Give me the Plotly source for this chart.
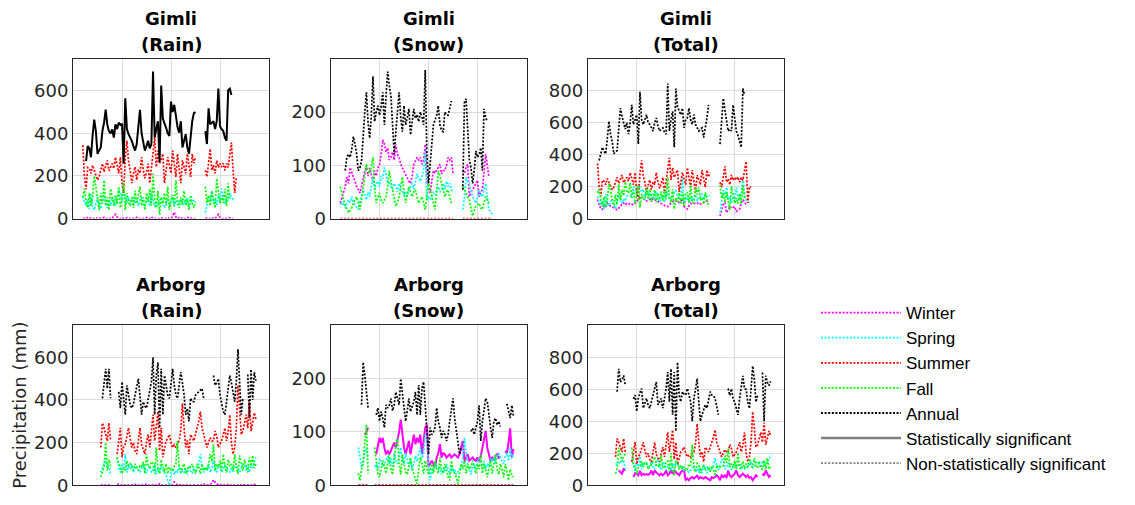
import plotly.graph_objects as go

N = None
gimli_years = list(range(1906, 2001))
arborg_years = list(range(1917, 2014))

# ---------------- Gimli (1906-2000) ----------------
g_rain_win = [0, 2, 0, 5, 0, 3, 0, 0, 4, 0,
              2, 0, 0, 6, 0, 0, 3, 0, 0, 12,
              20, 8, 0, 0, 5, 0, 0, 4, 0, 0,
              3, 0, 0, 6, 0, 0, 2, 0, 0, 5,
              0, 0, 8, 0, 0, 3, 0, 0, 5, 0,
              0, 0, 4, 0, 0, 10, 30, 8, 0, 5,
              0, 3, 0, 0, 6, 0, 0, 4, 0, 0,
              N, N, N, N, N, 0, 3, 0, 0, 5,
              0, 0, 8, 20, 6, 0, 0, 3, 0, 0,
              4, 0, 0, N, N]
g_rain_spr = [104, 74, 60, 90, 45, 120, 60, 40, 70, 100,
              60, 45, 80, 110, 75, 50, 90, 60, 100, 80,
              60, 95, 135, 120, 80, 135, 110, 70, 100, 60,
              90, 105, 70, 95, 60, 85, 100, 70, 55, 80,
              95, 60, 120, 90, 55, 75, 60, 85, 100, 65,
              50, 70, 95, 60, 80, 100, 55, 85, 65, 75,
              90, 60, 80, 70, 100, 55, 90, 75, 85, 95,
              N, N, N, N, N, 28, 60, 100, 80, 130,
              70, 95, 60, 110, 80, 140, 90, 70, 100, 85,
              120, 100, 90, 97, N]
g_rain_sum = [345, 200, 138, 240, 235, 212, 250, 227, 200, 181,
              196, 230, 258, 220, 242, 273, 225, 242, 258, 235,
              288, 250, 212, 288, 166, 120, 280, 365, 270, 227,
              166, 210, 242, 181, 230, 212, 288, 230, 189, 220,
              258, 166, 240, 304, 380, 242, 319, 258, 280, 304,
              166, 230, 288, 250, 212, 319, 250, 196, 304, 220,
              166, 273, 240, 212, 304, 250, 196, 304, 260, 288,
              N, N, N, N, N, 227, 196, 260, 327, 227,
              250, 212, 273, 240, 258, 242, 260, 227, 258, 240,
              288, 357, 230, 120, 196]
g_rain_fal = [100, 140, 80, 50, 120, 60, 100, 200, 150, 80,
              40, 120, 70, 180, 60, 100, 40, 140, 90, 60,
              110, 70, 150, 50, 100, 170, 40, 120, 80, 60,
              100, 50, 130, 70, 110, 150, 60, 100, 40, 120,
              80, 140, 60, 210, 90, 50, 130, 20, 100, 70,
              120, 60, 150, 40, 90, 110, 60, 180, 80, 50,
              100, 70, 130, 60, 90, 40, 110, 70, 50, 80,
              N, N, N, N, N, 150, 74, 110, 60, 130,
              90, 50, 188, 120, 70, 100, 74, 140, 60, 165,
              90, N, N, N, N]
g_rain_ann = [N, N, 270, 340, 330, 288, 390, 465, 410, 304,
              320, 334, 411, 450, 511, 440, 411, 400, 419, 380,
              442, 420, 450, 440, 445, 258, 565, 420, 396, 380,
              365, 340, 319, 350, 420, 511, 400, 365, 319, 340,
              365, 330, 350, 690, 380, 420, 457, 265, 625, 470,
              442, 426, 400, 388, 549, 500, 534, 472, 430, 403,
              457, 334, 370, 396, 334, 304, 380, 457, 495, 500,
              N, N, N, N, N, 411, 350, 518, 442, 450,
              457, 420, 457, 610, 434, 420, 411, 380, 365, 603,
              610, 580, N, N, N]

g_snow_win = [29, 40, 48, 60, 78, 66, 96, 85, 78, 70,
              60, 55, 48, 60, 75, 90, 96, 80, 95, 84,
              70, 90, 80, 95, 102, 120, 148, 140, 125, 133,
              110, 115, 125, 110, 139, 120, 115, 102, 95, 90,
              84, 75, 70, 66, 80, 102, 110, 115, 110, 115,
              102, 110, 139, 66, 60, 48, 70, 90, 85, 90,
              95, 102, 84, 90, 90, 100, 115, 110, 115, 84,
              N, N, N, N, N, 90, 85, 96, 102, 41,
              50, 54, 60, 66, 72, 41, 50, 54, 90, 121,
              100, 78, N, N, N]
g_snow_spr = [29, 25, 30, 20, 28, 35, 30, 41, 30, 25,
              20, 17, 30, 40, 54, 45, 35, 50, 41, 60,
              78, 55, 65, 70, 60, 80, 75, 96, 85, 66,
              70, 60, 55, 66, 60, 50, 66, 55, 50, 45,
              50, 41, 55, 60, 66, 55, 70, 84, 75, 70,
              80, 90, 127, 35, 41, 35, 40, 50, 45, 54,
              60, 50, 54, 66, 55, 70, 60, 66, 54, 50,
              N, N, N, N, N, 17, 40, 78, 70, 66,
              50, 41, 35, 29, 40, 54, 45, 41, 55, 66,
              40, 17, 12, 8, N]
g_snow_sum = [0, 0, 0, 0, 0, 0, 0, 0, 0, 0,
              0, 0, 0, 0, 0, 0, 0, 0, 0, 0,
              0, 0, 0, 0, 0, 0, 0, 0, 0, 0,
              0, 0, 0, 0, 0, 0, 0, 0, 0, 0,
              0, 0, 0, 0, 0, 0, 0, 0, 0, 0,
              0, 0, 0, 0, 0, 0, 0, 0, 0, 0,
              0, 0, 0, 0, 0, 0, 0, 0, 0, 0,
              N, N, N, N, N, 0, 0, 0, 0, 0,
              0, 0, 0, 0, 0, 0, 0, 0, 0, 0,
              0, 0, 0, 0, N]
g_snow_fal = [60, 45, 35, 25, 17, 11, 15, 20, 29, 35,
              41, 30, 17, 35, 54, 80, 102, 90, 84, 100,
              115, 60, 29, 40, 48, 35, 29, 35, 41, 60,
              90, 70, 54, 35, 23, 30, 41, 60, 78, 50,
              29, 45, 60, 50, 41, 50, 54, 40, 29, 35,
              41, 30, 17, 40, 66, 55, 41, 30, 17, 50,
              90, 80, 66, 55, 41, 50, 54, 40, 29, N,
              N, N, N, N, N, 60, 55, 48, 40, 35,
              20, 5, 15, 23, 26, 29, 20, 17, 30, 41,
              35, 29, N, N, N]
g_snow_ann = [N, N, N, 90, 115, 121, 115, 130, 154, 140,
              121, 90, 95, 108, 163, 200, 237, 180, 151, 194,
              267, 182, 200, 212, 194, 210, 237, 176, 230, 276,
              250, 230, 176, 121, 163, 200, 237, 190, 163, 212,
              176, 190, 206, 157, 180, 206, 188, 195, 182, 200,
              190, 176, 279, 121, 66, 100, 127, 176, 185, 194,
              212, 176, 165, 163, 200, 195, 194, 205, 221, N,
              N, N, N, N, N, 54, 218, 225, 151, 110,
              96, 66, 90, 127, 115, 120, 133, 90, 206, 190,
              182, N, N, N, N]

g_tot_win = [119, 90, 60, 57, 80, 70, 96, 85, 80, 70,
             65, 60, 55, 65, 80, 90, 98, 85, 95, 90,
             95, 92, 85, 98, 105, 119, 140, 130, 120, 125,
             110, 115, 120, 112, 125, 119, 112, 105, 100, 95,
             90, 82, 80, 75, 85, 100, 108, 115, 110, 112,
             100, 108, 125, 75, 70, 60, 80, 95, 90, 92,
             95, 100, 88, 92, 95, 100, 112, 108, 115, N,
             N, N, N, N, N, 16, 60, 90, 100, 37,
             55, 78, 65, 70, 75, 45, 55, 60, 95, 119,
             105, 85, N, N, N]
g_tot_spr = [139, 100, 90, 110, 57, 155, 90, 80, 100, 125,
             80, 62, 110, 150, 130, 95, 125, 110, 141, 140,
             138, 150, 200, 190, 140, 215, 185, 166, 185, 126,
             160, 165, 125, 161, 120, 135, 166, 125, 105, 125,
             145, 101, 175, 150, 121, 130, 130, 169, 175, 135,
             130, 160, 262, 95, 121, 135, 95, 135, 110, 129,
             150, 110, 134, 136, 155, 125, 150, 141, 139, 145,
             N, N, N, N, N, 37, 100, 178, 150, 196,
             120, 136, 95, 139, 120, 194, 135, 111, 155, 262,
             160, 117, 102, 105, N]
g_tot_sum = [345, 200, 138, 240, 235, 212, 250, 227, 200, 181,
             196, 230, 258, 220, 242, 273, 225, 242, 258, 235,
             288, 250, 212, 288, 166, 120, 280, 365, 270, 227,
             166, 210, 242, 181, 230, 212, 288, 230, 189, 220,
             258, 166, 240, 304, 380, 242, 319, 258, 280, 304,
             166, 230, 288, 250, 212, 319, 250, 196, 304, 220,
             166, 273, 240, 212, 304, 250, 196, 304, 260, 288,
             N, N, N, N, N, 227, 196, 260, 327, 227,
             250, 212, 273, 240, 258, 242, 260, 227, 258, 240,
             288, 357, 98, 200, 196]
g_tot_fal = [160, 185, 115, 75, 137, 71, 115, 220, 179, 115,
             81, 150, 87, 215, 114, 180, 142, 230, 174, 160,
             225, 130, 179, 90, 148, 205, 69, 155, 121, 120,
             190, 120, 184, 105, 133, 180, 101, 160, 118, 170,
             109, 185, 120, 260, 131, 100, 184, 60, 129, 105,
             161, 90, 167, 80, 156, 165, 101, 210, 97, 100,
             190, 150, 196, 115, 131, 90, 164, 110, 79, N,
             N, N, N, N, N, 210, 129, 158, 100, 165,
             110, 55, 203, 143, 96, 129, 94, 157, 90, 206,
             125, N, N, N, N]
g_tot_ann = [N, 364, 400, 446, 420, 405, 500, 609, 528, 480,
             405, 420, 425, 550, 691, 640, 589, 560, 600, 528,
             600, 712, 589, 620, 650, 466, 793, 620, 589, 620,
             650, 600, 589, 570, 548, 600, 630, 580, 548, 560,
             568, 540, 528, 845, 548, 620, 671, 446, 814, 700,
             671, 650, 691, 568, 620, 630, 691, 620, 589, 650,
             589, 570, 548, 560, 568, 507, 560, 630, 712, N,
             N, N, N, N, N, 466, 600, 753, 680, 609,
             548, 560, 548, 712, 620, 548, 520, 487, 446, 814,
             773, N, N, N, N]

# ---------------- Arborg (1917-2013) ----------------
a_rain_win = [0, 0, 2, 0, 0, 3, 0, N, N, N,
              0, 5, 0, 0, 3, 0, 0, 2, 0, 0,
              0, 4, 0, 0, 0, 2, 0, 0, 5, 0,
              0, 0, 3, 0, 0, 0, 6, 0, 0, 0,
              3, 0, 0, 5, 0, 15, 8, 0, 0, 2,
              0, 0, 4, 0, 0, 0, 3, 0, 0, 0,
              2, 0, 0, 5, 0, 0, 0, 3, 10, 25,
              15, 5, 0, 0, 3, 0, 0, 0, 4, 0,
              0, 3, 0, 0, 0, 5, 0, 0, 2, 0,
              0, 3, 0, 0, 4, 0, N]
a_rain_spr = [60, 85, 100, 115, 80, 90, 50, N, N, N,
              131, 80, 60, 100, 70, 146, 60, 90, 75, 100,
              60, 80, 90, 70, 60, 85, 100, 70, 55, 80,
              90, 60, 70, 100, 50, 80, 60, 90, 70, 60,
              50, 20, 0, 60, 80, 50, 70, 60, 90, 55,
              70, 60, 80, 50, 90, 65, 55, 80, 60, 75,
              100, 146, 90, 60, 80, 70, 100, 60, 80, 120,
              70, 60, 85, 90, 60, 75, 100, 80, 70, 60,
              80, 60, 90, 100, 70, 60, 80, 100, 90, 70,
              100, 60, 90, 80, 110, 130, N]
a_rain_sum = [177, 292, 269, 240, 208, 292, 208, N, N, N,
              146, 200, 269, 131, 180, 192, 230, 269, 220, 177,
              200, 160, 146, 210, 269, 192, 170, 146, 200, 238,
              177, 260, 331, 208, 280, 346, 162, 269, 131, 180,
              208, 220, 238, 200, 177, 190, 177, 200, 208, 260,
              385, 269, 177, 210, 146, 238, 220, 208, 240, 269,
              300, 346, 269, 240, 208, 177, 200, 223, 208, 208,
              254, 230, 177, 192, 210, 238, 269, 208, 250, 331,
              200, 146, 177, 269, 469, 362, 238, 253, 299, 331,
              268, 391, 253, 300, 340, 310, N]
a_rain_fal = [38, 60, 85, 200, 69, 120, 90, N, N, N,
              131, 100, 85, 54, 80, 69, 115, 90, 100, 80,
              69, 100, 85, 70, 90, 85, 110, 54, 146, 90,
              85, 110, 100, 54, 177, 80, 54, 120, 90, 60,
              100, 54, 85, 70, 69, 90, 100, 208, 85, 60,
              85, 100, 54, 69, 90, 85, 100, 69, 54, 100,
              85, 54, 100, 69, 85, 69, 100, 146, 110, 192,
              69, 100, 85, 115, 69, 146, 85, 60, 120, 90,
              100, 70, 146, 80, 54, 140, 100, 69, 120, 90,
              60, 130, 90, 140, 80, 100, N]
a_rain_ann = [N, 408, 480, 546, 454, 546, 408, N, N, N,
              N, 438, 362, 485, 400, 331, 469, 420, 377, 362,
              380, 423, 460, 500, 420, 331, 392, 370, 362, 408,
              440, 485, 600, 331, 515, 577, 269, 546, 331, 515,
              470, 423, 408, 480, 546, 470, 423, 408, 460, 531,
              480, 423, 331, 360, 300, 408, 392, 392, 423, 430,
              438, 445, 454, 408, N, N, N, N, N, 515,
              469, 480, 500, 423, 380, 346, 331, 400, 469, 515,
              480, 438, 392, 485, 638, 485, 331, 408, N, N,
              520, 314, 544, 400, 530, 491, N]

a_snow_win = [N, N, N, N, 95, 100, 108, N, N, N,
              N, 58, 75, 89, 80, 89, 70, 58, 65, 58,
              65, 71, 80, 71, 83, 100, 123, 90, 71, 58,
              70, 83, 58, 75, 95, 77, 89, 80, 95, 58,
              80, 108, 114, 34, 40, 46, 40, 34, 52, 60,
              77, 52, 60, 58, 52, 55, 58, 52, 55, 58,
              55, 52, 58, 70, 83, 46, 52, 58, 46, 50,
              52, 48, 46, 52, 46, 55, 71, 85, 102, 70,
              58, 46, 52, 48, 55, 58, 50, 55, N, N,
              64, 60, 80, 107, 52, 68, N]
a_snow_spr = [71, 50, 34, 40, 60, 70, 50, N, N, N,
              34, 40, 30, 50, 45, 35, 40, 46, 55, 40,
              50, 35, 60, 45, 40, 55, 71, 50, 40, 60,
              45, 35, 50, 28, 40, 55, 45, 60, 71, 50,
              60, 95, 89, 40, 9, 30, 25, 40, 35, 30,
              35, 20, 30, 25, 40, 30, 20, 35, 25, 30,
              20, 25, 30, 35, 52, 89, 60, 40, 30, 20,
              35, 40, 30, 45, 50, 40, 35, 45, 30, 40,
              35, 50, 45, 52, 40, 55, 60, 50, 45, 40,
              55, 60, 45, 70, 50, 60, N]
a_snow_sum = [0, 0, 0, 0, 0, 0, 0, N, N, N,
              0, 0, 0, 0, 0, 0, 0, 0, 0, 0,
              0, 0, 0, 0, 0, 0, 0, 0, 0, 0,
              0, 0, 0, 0, 0, 0, 0, 0, 0, 0,
              0, 0, 0, 0, 0, 0, 0, 0, 0, 0,
              0, 0, 0, 0, 0, 0, 0, 0, 0, 0,
              0, 0, 0, 0, 0, 0, 0, 0, 0, 0,
              0, 0, 0, 0, 0, 0, 0, 0, 0, 0,
              0, 0, 0, 0, 0, 0, 0, 0, 0, 0,
              0, 0, 0, 0, 0, 0, N]
a_snow_fal = [22, 9, 30, 46, 80, 114, 22, N, N, N,
              71, 40, 22, 15, 30, 46, 35, 22, 40, 58,
              30, 20, 46, 77, 89, 40, 20, 58, 40, 25,
              20, 35, 52, 30, 22, 10, 3, 30, 52, 40,
              22, 46, 30, 20, 30, 40, 22, 46, 30, 22,
              52, 30, 22, 40, 30, 15, 9, 46, 30, 22,
              15, 3, 25, 40, 30, 46, 22, 40, 30, 35,
              46, 35, 22, 40, 30, 58, 22, 40, 30, 15,
              35, 46, 22, 40, 58, 30, 20, 40, 30, 15,
              40, 25, 9, 30, 20, 15, N]
a_snow_ann = [N, N, 151, 231, 206, 170, 145, N, N, N,
              N, 132, 145, 120, 138, 125, 108, 151, 145, 150,
              163, 140, 151, 175, 160, 151, 200, 169, 150, 120,
              140, 163, 138, 150, 157, 175, 132, 188, 132, 182,
              194, 150, 108, 58, 108, 95, 100, 108, 145, 120,
              108, 89, 102, 95, 83, 95, 120, 140, 163, 126,
              100, 83, 58, 70, N, N, N, N, N, 101,
              107, 95, 108, 120, 150, 83, 120, 140, 163, 157,
              130, 108, 89, 120, 126, 113, 120, 110, N, N,
              N, 153, 140, 126, 150, 130, N]

a_tot_win = [N, N, 92, 80, 72, 100, 92, N, N, N,
             N, 51, 75, 72, 62, 89, 62, 72, 65, 70,
             65, 72, 92, 62, 92, 80, 72, 62, 72, 62,
             72, 92, 62, 72, 92, 72, 92, 80, 72, 62,
             80, 92, 92, 31, 41, 31, 45, 51, 41, 50,
             60, 41, 51, 45, 41, 51, 45, 41, 31, 51,
             45, 51, 62, 51, 31, 62, 51, 62, 45, 92,
             60, 51, 62, 72, 92, 62, 51, 62, 72, 62,
             51, 62, 45, 51, 31, 45, 62, 51, N, N,
             72, 60, 92, 72, 51, 62, N]
a_tot_spr = [131, 135, 134, 155, 140, 160, 100, N, N, N,
             165, 120, 90, 150, 115, 181, 100, 136, 130, 140,
             110, 115, 150, 115, 100, 140, 171, 120, 95, 140,
             135, 95, 120, 128, 90, 135, 105, 150, 141, 110,
             110, 115, 89, 100, 89, 80, 95, 100, 125, 85,
             105, 80, 110, 75, 130, 95, 75, 115, 85, 105,
             120, 171, 120, 95, 132, 159, 160, 100, 110, 140,
             105, 100, 115, 135, 110, 115, 135, 125, 100, 100,
             115, 110, 135, 152, 110, 115, 140, 150, 135, 110,
             155, 120, 135, 150, 160, 190, N]
a_tot_sum = [177, 292, 269, 240, 208, 292, 208, N, N, N,
             146, 200, 269, 131, 180, 192, 230, 269, 220, 177,
             200, 160, 146, 210, 269, 192, 170, 146, 200, 238,
             177, 260, 331, 208, 280, 346, 162, 269, 131, 180,
             208, 220, 238, 200, 177, 190, 177, 200, 208, 260,
             385, 269, 177, 210, 146, 238, 220, 208, 240, 269,
             300, 346, 269, 240, 208, 177, 200, 223, 208, 208,
             254, 230, 177, 192, 210, 238, 269, 208, 250, 331,
             200, 146, 177, 269, 460, 362, 238, 253, 299, 331,
             268, 391, 253, 300, 340, 310, N]
a_tot_fal = [72, 100, 236, 195, 150, 180, 195, N, N, N,
             236, 140, 107, 70, 110, 115, 150, 112, 140, 138,
             99, 120, 131, 147, 179, 125, 130, 112, 186, 115,
             105, 145, 152, 84, 199, 90, 57, 150, 142, 100,
             122, 100, 115, 90, 99, 130, 122, 254, 115, 82,
             137, 130, 76, 109, 120, 100, 109, 115, 84, 122,
             100, 57, 125, 109, 115, 115, 122, 186, 140, 227,
             115, 135, 107, 155, 99, 204, 107, 100, 150, 105,
             135, 116, 168, 120, 112, 170, 120, 109, 150, 105,
             100, 155, 99, 170, 100, 115, N]
a_tot_ann = [N, 585, 728, 646, 660, 687, 626, N, N, N,
             N, 540, 564, 462, 544, 580, 605, 482, 520, 544,
             500, 482, 523, 564, 600, 646, 503, 530, 544, 482,
             540, 605, 708, 523, 728, 441, 708, 338, 769, 564,
             523, 585, 570, 564, 605, 560, 523, 400, 544, 600,
             667, 523, 400, 441, 480, 503, 482, 530, 585, 564,
             560, 544, 500, 441, N, N, N, N, N, 605,
             562, 603, 542, 520, 480, 440, 542, 624, 685, 603,
             600, 521, 480, 600, 746, 665, 521, 560, N, N,
             705, 399, 685, 644, 624, 650, N]

seasons = ["Winter", "Spring", "Summer", "Fall", "Annual"]
colors = {"Winter": "#FF00FF", "Spring": "#00FFFF", "Summer": "#FF0000",
          "Fall": "#00FF00", "Annual": "#000000"}

panels = [
    ("Gimli", "(Rain)", gimli_years, [g_rain_win, g_rain_spr, g_rain_sum, g_rain_fal, g_rain_ann], {"Annual"}, 750, [0, 200, 400, 600]),
    ("Gimli", "(Snow)", gimli_years, [g_snow_win, g_snow_spr, g_snow_sum, g_snow_fal, g_snow_ann], set(), 300, [0, 100, 200]),
    ("Gimli", "(Total)", gimli_years, [g_tot_win, g_tot_spr, g_tot_sum, g_tot_fal, g_tot_ann], set(), 1000, [0, 200, 400, 600, 800]),
    ("Arborg", "(Rain)", arborg_years, [a_rain_win, a_rain_spr, a_rain_sum, a_rain_fal, a_rain_ann], set(), 750, [0, 200, 400, 600]),
    ("Arborg", "(Snow)", arborg_years, [a_snow_win, a_snow_spr, a_snow_sum, a_snow_fal, a_snow_ann], {"Winter"}, 300, [0, 100, 200]),
    ("Arborg", "(Total)", arborg_years, [a_tot_win, a_tot_spr, a_tot_sum, a_tot_fal, a_tot_ann], {"Winter"}, 1000, [0, 200, 400, 600, 800]),
]

W, H = 1135, 505
col_px = [(73, 269), (330.5, 526.5), (587.7, 783.7)]
row_px = [(60, 223), (332, 495)]
DOT = "2px,1.6px"
AXIS_FONT = dict(family="DejaVu Sans", size=18, color="#262626")

fig = go.Figure()
layout = dict(width=W, height=H, margin=dict(l=0, r=0, t=0, b=0),
              paper_bgcolor="white", plot_bgcolor="white", annotations=[])

for i, (station, kind, years, series, sig, ymax, yticks) in enumerate(panels):
    n = i + 1
    r, c = divmod(i, 3)
    xd = [col_px[c][0] / W, col_px[c][1] / W]
    yd = [1 - row_px[r][1] / H, 1 - row_px[r][0] / H]
    xs = "x" if n == 1 else f"x{n}"
    ys = "y" if n == 1 else f"y{n}"
    xk = "xaxis" if n == 1 else f"xaxis{n}"
    yk = "yaxis" if n == 1 else f"yaxis{n}"
    layout[xk] = dict(domain=xd, range=[1900, 2020], anchor=ys, tickvals=[1930, 1960, 1990],
                      showticklabels=False, ticks="", showgrid=True, gridcolor="#DCDCDC",
                      gridwidth=1, showline=True, mirror=True, linecolor="#262626",
                      linewidth=1, zeroline=False, fixedrange=True)
    layout[yk] = dict(domain=yd, range=[0, ymax], anchor=xs, tickvals=yticks,
                      ticktext=[str(v) for v in yticks], tickfont=AXIS_FONT, ticks="",
                      showgrid=True, gridcolor="#DCDCDC", gridwidth=1, showline=True,
                      mirror=True, linecolor="#262626", linewidth=1, zeroline=False,
                      fixedrange=True)
    for season, vals in zip(seasons, series):
        assert len(vals) == len(years), (station, kind, season, len(vals))
        solid = season in sig
        fig.add_trace(go.Scatter(
            x=years, y=vals, mode="lines", xaxis=xs, yaxis=ys, showlegend=False,
            hoverinfo="skip", connectgaps=False, cliponaxis=True,
            line=dict(color=colors[season], width=2.0 if solid else 1.7,
                      dash="solid" if solid else DOT)))
    xc = (xd[0] + xd[1]) / 2
    layout["annotations"].append(dict(text=f"<b>{station}</b>", x=xc, y=yd[1], xref="paper",
                                      yref="paper", xanchor="center", yanchor="bottom",
                                      yshift=28, showarrow=False,
                                      font=dict(family="DejaVu Sans", size=18, color="#000000")))
    layout["annotations"].append(dict(text=f"<b>{kind}</b>", x=xc, y=yd[1], xref="paper",
                                      yref="paper", xanchor="center", yanchor="bottom",
                                      yshift=2, showarrow=False,
                                      font=dict(family="DejaVu Sans", size=18, color="#000000")))

layout["annotations"].append(dict(text="Precipitation (mm)", textangle=-90, x=19.5 / W,
                                  y=1 - 413.5 / H, xref="paper", yref="paper",
                                  xanchor="center", yanchor="middle", showarrow=False,
                                  font=AXIS_FONT))

legend_items = [("Winter", "#FF00FF", DOT, 1.8), ("Spring", "#00FFFF", DOT, 1.8),
                ("Summer", "#FF0000", DOT, 1.8), ("Fall", "#00FF00", DOT, 1.8),
                ("Annual", "#000000", DOT, 1.8),
                ("Statistically significant", "#808080", "solid", 2.5),
                ("Non-statistically significant", "#808080", DOT, 1.8)]
for name, col, dash, wd in legend_items:
    fig.add_trace(go.Scatter(x=[None], y=[None], mode="lines", name=name,
                             line=dict(color=col, dash=dash, width=wd), hoverinfo="skip"))

layout["showlegend"] = True
layout["legend"] = dict(x=816 / W, xanchor="left", y=1 - 301 / H, yanchor="top",
                        orientation="v", itemwidth=80, tracegroupgap=0,
                        bgcolor="rgba(0,0,0,0)", borderwidth=0,
                        font=dict(family="Liberation Sans", size=17, color="#000000"),
                        itemclick=False, itemdoubleclick=False)
fig.update_layout(**layout)

fig.write_html("out.html", config={"displayModeBar": False},
               post_script="document.body.style.margin='0';")
